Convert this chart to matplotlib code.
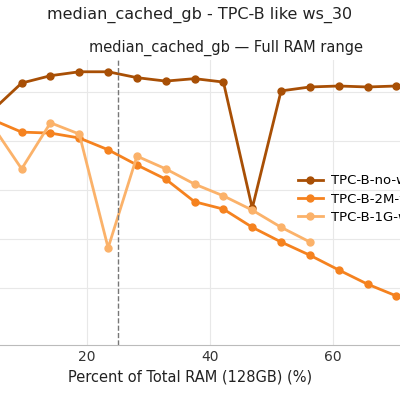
import matplotlib
matplotlib.use("Agg")
import matplotlib.pyplot as plt

x_all = [4.6875 * k for k in range(1, 16)]
no_wrap = [46.3, 51.8, 53.3, 54.1, 54.1, 52.9, 52.2, 52.7, 52.0, 26.3, 50.2, 51.0, 51.2, 51.0, 51.2]
two_m = [44.3, 41.8, 41.6, 40.6, 38.2, 35.1, 32.2, 27.6, 26.1, 22.4, 19.4, 16.7, 13.7, 10.8, 8.4]
one_g = [43.0, 34.3, 43.7, 41.4, 18.2, 36.9, 34.3, 31.2, 28.8, 25.9, 22.4, 19.4]
labels = ["TPC-B-no-wrap", "TPC-B-2M-wrap", "TPC-B-1G-wrap"]

fig = plt.figure(figsize=(4, 4), dpi=100)
ax = fig.add_axes([-0.09, 0.1375, 1.153, 0.7125])
ax.plot(x_all, no_wrap, "-o", color="#a84f05", lw=2, ms=5, label=labels[0])
ax.plot(x_all, two_m, "-o", color="#f5821f", lw=2, ms=5, label=labels[1])
ax.plot(x_all[:len(one_g)], one_g, "-o", color="#fbb26a", lw=2, ms=5, label=labels[2])
ax.axvline(25, color="#777777", ls="--", lw=1)
ax.set_xlim(0, 75)
ax.set_ylim(-1.6, 56.5)
ax.set_xticks([20, 40, 60])
ax.set_yticks([10, 20, 30, 40, 50])
ax.tick_params(axis="y", labelleft=False, length=0)
ax.tick_params(axis="x", length=0, labelsize=10, colors="#333333")
ax.grid(True, color="#e8e8e8", lw=0.8)
for s in ["top", "right", "left"]:
    ax.spines[s].set_visible(False)
ax.spines["bottom"].set_color("#bbbbbb")
ax.set_xlabel("Percent of Total RAM (128GB) (%)", fontsize=10.5, color="#222222", x=0.49)
fig.text(0.565, 0.88, "median_cached_gb — Full RAM range", fontsize=10.5, color="#222222", ha="center", va="center")
fig.text(0.5, 0.962, "median_cached_gb - TPC-B like ws_30", fontsize=11.5, color="#222222", ha="center", va="center")
ax.legend(loc="upper left", bbox_to_anchor=(0.698, 0.64), frameon=False, fontsize=9.5,
          handlelength=1.9, handletextpad=0.6, labelspacing=0.4)
fig.savefig("out.png", dpi=100)
